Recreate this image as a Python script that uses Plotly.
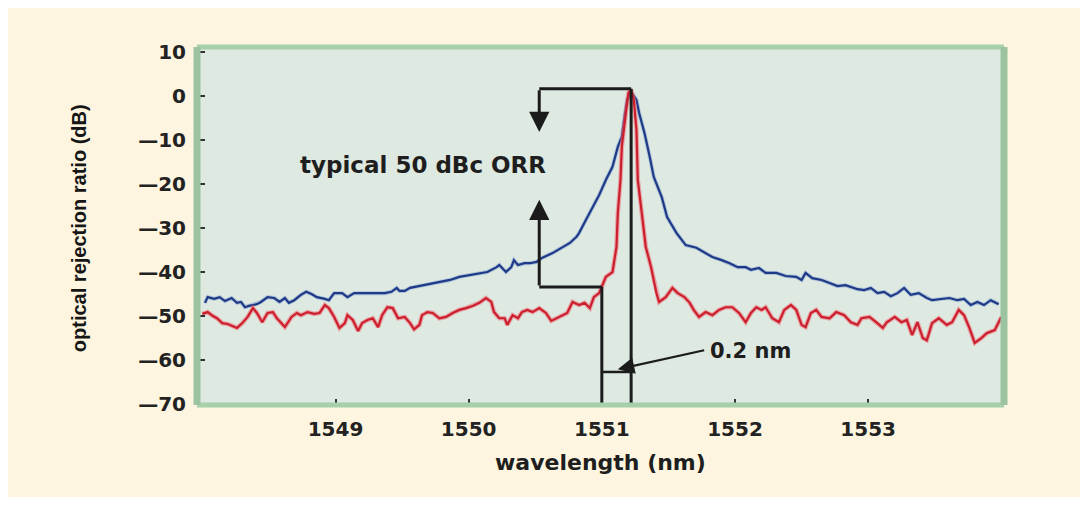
import plotly.graph_objects as go

# ---------------- data ----------------
blue_x = [1548.02, 1548.04, 1548.09, 1548.13, 1548.17, 1548.22, 1548.26, 1548.29, 1548.32, 1548.35,
          1548.41, 1548.44, 1548.49, 1548.54, 1548.58, 1548.62, 1548.65, 1548.69, 1548.74, 1548.78,
          1548.82, 1548.86, 1548.92, 1548.95, 1548.99, 1549.05, 1549.09, 1549.14, 1549.22, 1549.29,
          1549.37, 1549.42, 1549.46, 1549.48, 1549.52, 1549.56, 1549.63, 1549.71, 1549.78, 1549.86,
          1549.93, 1550.01, 1550.08, 1550.14, 1550.21, 1550.23, 1550.28, 1550.32, 1550.34, 1550.37,
          1550.42, 1550.46, 1550.51, 1550.55, 1550.63, 1550.70, 1550.76, 1550.81, 1550.83, 1550.88,
          1550.93, 1550.98, 1551.03, 1551.08, 1551.12, 1551.15, 1551.17, 1551.19, 1551.22, 1551.26,
          1551.28, 1551.32, 1551.36, 1551.39, 1551.45, 1551.49, 1551.56, 1551.63, 1551.71, 1551.78,
          1551.83, 1551.90, 1551.96, 1552.02, 1552.08, 1552.12, 1552.18, 1552.23, 1552.31, 1552.38,
          1552.46, 1552.50, 1552.53, 1552.58, 1552.65, 1552.71, 1552.77, 1552.83, 1552.87, 1552.92,
          1552.97, 1553.02, 1553.07, 1553.12, 1553.17, 1553.22, 1553.27, 1553.32, 1553.38, 1553.44,
          1553.48, 1553.55, 1553.61, 1553.67, 1553.72, 1553.77, 1553.82, 1553.87, 1553.92, 1553.98]
blue_y = [-47.0, -45.7, -46.1, -45.7, -46.6, -45.9, -47.0, -46.8, -48.0, -47.7,
          -47.3, -46.8, -45.7, -45.9, -46.8, -45.9, -47.0, -46.4, -45.2, -44.5,
          -45.0, -45.7, -46.1, -46.4, -44.8, -44.8, -45.7, -44.8, -44.8, -44.8,
          -44.8, -44.5, -43.6, -44.3, -44.3, -43.6, -43.2, -42.7, -42.3, -41.8,
          -41.1, -40.7, -40.2, -40.0, -38.9, -38.4, -40.0, -38.9, -37.3, -38.4,
          -38.0, -38.0, -37.7, -36.8, -35.7, -34.5, -33.4, -32.0, -31.1, -28.2,
          -25.5, -22.5, -19.1, -16.1, -11.6, -9.3, -4.8, -0.9, 0.9, -0.9,
          -3.9, -8.4, -13.9, -18.4, -23.0, -27.5, -31.1, -33.9, -34.5, -35.7,
          -36.6, -37.3, -38.0, -38.9, -38.9, -39.5, -39.1, -40.2, -40.2, -40.9,
          -41.1, -41.8, -40.2, -41.4, -41.8, -42.5, -43.2, -43.0, -43.4, -43.9,
          -44.1, -43.6, -44.8, -44.5, -45.5, -44.8, -43.6, -45.2, -44.8, -45.9,
          -46.4, -46.1, -45.9, -46.4, -46.1, -47.5, -46.8, -47.5, -46.4, -47.3]

red_x = [1548.00, 1548.04, 1548.08, 1548.11, 1548.15, 1548.19, 1548.23, 1548.26, 1548.30, 1548.34,
         1548.38, 1548.41, 1548.45, 1548.49, 1548.53, 1548.56, 1548.62, 1548.67, 1548.71, 1548.74,
         1548.79, 1548.84, 1548.88, 1548.92, 1548.95, 1548.99, 1549.03, 1549.07, 1549.09, 1549.13,
         1549.17, 1549.20, 1549.24, 1549.28, 1549.32, 1549.35, 1549.39, 1549.43, 1549.47, 1549.52,
         1549.56, 1549.59, 1549.63, 1549.65, 1549.69, 1549.73, 1549.78, 1549.83, 1549.88, 1549.93,
         1549.98, 1550.03, 1550.08, 1550.13, 1550.17, 1550.19, 1550.23, 1550.27, 1550.29, 1550.33,
         1550.37, 1550.40, 1550.44, 1550.48, 1550.53, 1550.58, 1550.62, 1550.66, 1550.70, 1550.74,
         1550.78, 1550.83, 1550.87, 1550.91, 1550.94, 1550.98, 1551.03, 1551.08, 1551.11, 1551.12,
         1551.14, 1551.15, 1551.18, 1551.20, 1551.22, 1551.24, 1551.26, 1551.27, 1551.30, 1551.33,
         1551.37, 1551.41, 1551.43, 1551.48, 1551.53, 1551.57, 1551.62, 1551.66, 1551.69, 1551.73,
         1551.78, 1551.83, 1551.88, 1551.93, 1551.98, 1552.03, 1552.08, 1552.12, 1552.16, 1552.20,
         1552.23, 1552.28, 1552.33, 1552.37, 1552.42, 1552.46, 1552.50, 1552.53, 1552.57, 1552.61,
         1552.65, 1552.71, 1552.76, 1552.82, 1552.87, 1552.92, 1552.95, 1553.01, 1553.06, 1553.11,
         1553.14, 1553.20, 1553.25, 1553.29, 1553.33, 1553.37, 1553.41, 1553.44, 1553.48, 1553.53,
         1553.59, 1553.63, 1553.68, 1553.72, 1553.76, 1553.80, 1553.85, 1553.89, 1553.95, 1554.00]
red_y = [-49.5, -49.1, -50.0, -50.5, -51.6, -51.8, -52.3, -52.7, -51.6, -50.2,
         -48.2, -49.3, -51.4, -49.3, -49.1, -50.5, -52.5, -50.2, -49.3, -49.8,
         -49.1, -49.5, -49.3, -47.5, -48.2, -50.2, -52.7, -51.6, -49.8, -50.9,
         -53.4, -51.6, -50.9, -50.5, -52.5, -49.8, -48.0, -48.2, -50.5, -50.2,
         -51.6, -53.0, -52.0, -49.8, -49.1, -49.3, -50.5, -50.2, -49.3, -48.6,
         -48.2, -47.7, -47.0, -45.9, -46.8, -49.1, -50.5, -50.5, -52.0, -49.8,
         -50.5, -49.1, -48.6, -49.1, -48.2, -49.3, -51.1, -50.5, -50.0, -49.3,
         -46.8, -47.5, -47.0, -48.2, -45.7, -44.8, -41.1, -40.0, -34.3, -26.6,
         -19.1, -11.6, -3.9, 0.7, 1.4, -0.9, -7.7, -19.1, -26.6, -34.3,
         -38.9, -44.8, -46.8, -45.7, -43.6, -44.8, -45.7, -47.0, -48.6, -50.2,
         -49.1, -49.8, -48.6, -48.0, -48.0, -49.3, -51.4, -49.3, -48.0, -48.6,
         -48.0, -50.5, -51.4, -48.6, -47.5, -48.6, -52.0, -52.5, -49.3, -48.6,
         -50.2, -50.5, -49.1, -49.8, -51.4, -52.0, -50.5, -50.2, -51.4, -52.7,
         -51.4, -50.2, -51.4, -50.9, -54.3, -51.4, -55.0, -55.5, -51.6, -50.5,
         -52.0, -51.4, -48.6, -49.8, -52.7, -56.1, -55.0, -53.9, -53.2, -50.2]

x_tick_vals = [1549, 1550, 1551, 1552, 1553]
x_tick_text = ["<b>1549</b>", "<b>1550</b>", "<b>1551</b>", "<b>1552</b>", "<b>1553</b>"]
y_tick_vals = [10, 0, -10, -20, -30, -40, -50, -60, -70]
y_tick_text = ["<b>10</b>", "<b>0</b>", "<b>\u201410</b>", "<b>\u201420</b>", "<b>\u201430</b>",
               "<b>\u201440</b>", "<b>\u201450</b>", "<b>\u201460</b>", "<b>\u201470</b>"]

x_range = [1547.96, 1554.02]
y_range = [-70.2, 11.1]

# annotation geometry (data units)
orr_top = 1.6
orr_bottom_level = -43.4
orr_arrow_x = 1550.53
orr_down_tip = -8.2
orr_up_tip = -23.6
peak_x = 1551.22
left_edge_x = 1551.00
width_bar_y = -62.7

INK = "#1b1b1b"
BOLD = "DejaVu Sans"
TICK_FONT = dict(family=BOLD, size=20, color="#222222")

fig = go.Figure()
fig.add_trace(go.Scatter(x=blue_x, y=blue_y, mode="lines",
                         line=dict(color="rgba(120,150,210,0.45)", width=4), hoverinfo="skip", showlegend=False))
fig.add_trace(go.Scatter(x=blue_x, y=blue_y, mode="lines",
                         line=dict(color="#1f3a86", width=2.2), showlegend=False))
fig.add_trace(go.Scatter(x=red_x, y=red_y, mode="lines",
                         line=dict(color="rgba(240,110,120,0.55)", width=4.5), hoverinfo="skip", showlegend=False))
fig.add_trace(go.Scatter(x=red_x, y=red_y, mode="lines",
                         line=dict(color="#cc1f2d", width=2.2), showlegend=False))

line_style = dict(color=INK, width=3)
shapes = [
    dict(type="line", xref="x", yref="y", x0=orr_arrow_x, x1=peak_x, y0=orr_top, y1=orr_top, line=line_style),
    dict(type="line", xref="x", yref="y", x0=peak_x, x1=peak_x, y0=orr_top, y1=y_range[0], line=line_style),
    dict(type="line", xref="x", yref="y", x0=orr_arrow_x, x1=left_edge_x, y0=orr_bottom_level, y1=orr_bottom_level, line=line_style),
    dict(type="line", xref="x", yref="y", x0=left_edge_x, x1=left_edge_x, y0=orr_bottom_level, y1=y_range[0], line=line_style),
    dict(type="line", xref="x", yref="y", x0=left_edge_x, x1=peak_x, y0=width_bar_y, y1=width_bar_y, line=dict(color=INK, width=2.5)),
    # frame
    dict(type="line", xref="paper", yref="paper", x0=0, x1=1, y0=1, y1=1, line=dict(color="#a6d0aa", width=5)),
    dict(type="line", xref="paper", yref="paper", x0=0, x1=1, y0=0, y1=0, line=dict(color="#a6d0aa", width=5)),
    dict(type="line", xref="paper", yref="paper", x0=0, x1=0, y0=0, y1=1, line=dict(color="#9cc3a0", width=7)),
    dict(type="line", xref="paper", yref="paper", x0=1, x1=1, y0=0, y1=1, line=dict(color="#9cc3a0", width=7)),
]

annotations = [
    dict(x=orr_arrow_x, y=orr_down_tip, ax=orr_arrow_x, ay=orr_top, xref="x", yref="y", axref="x", ayref="y",
         text="", showarrow=True, arrowhead=2, arrowsize=1.35, arrowwidth=3, arrowcolor=INK, standoff=0),
    dict(x=orr_arrow_x, y=orr_up_tip, ax=orr_arrow_x, ay=orr_bottom_level, xref="x", yref="y", axref="x", ayref="y",
         text="", showarrow=True, arrowhead=2, arrowsize=1.35, arrowwidth=3, arrowcolor=INK, standoff=0),
    dict(x=1551.12, y=width_bar_y + 0.6, ax=1551.78, ay=-57.7, xref="x", yref="y", axref="x", ayref="y",
         text="", showarrow=True, arrowhead=2, arrowsize=1.5, arrowwidth=2.2, arrowcolor=INK, standoff=0),
    dict(x=1549.66, y=-15.7, xref="x", yref="y", text="<b>typical 50 dBc ORR</b>", showarrow=False,
         font=dict(family=BOLD, size=23, color="#1e1e1e")),
    dict(x=1551.80, y=-57.9, xref="x", yref="y", text="<b>0.2 nm</b>", showarrow=False, xanchor="left",
         font=dict(family=BOLD, size=21, color="#1e1e1e")),
    dict(x=0.5, y=-0.162, xref="paper", yref="paper", text="<b>wavelength (nm)</b>", showarrow=False,
         yanchor="middle", font=dict(family=BOLD, size=22, color="#1e1e1e")),
    dict(x=-0.147, y=0.495, xref="paper", yref="paper", text="<b>optical rejection ratio (dB)</b>", showarrow=False,
         textangle=-90, xanchor="center", yanchor="middle",
         font=dict(family="Liberation Sans", size=20, color="#161616")),
]

fig.update_layout(
    width=1072, height=489,
    margin=dict(l=189, r=76, t=39, b=92),
    paper_bgcolor="#fdf5df",
    plot_bgcolor="#dde9e1",
    shapes=shapes,
    annotations=annotations,
    showlegend=False,
    xaxis=dict(range=x_range, tickvals=x_tick_vals, ticktext=x_tick_text, ticks="inside", ticklen=6,
               tickwidth=2, tickcolor="#333333", showgrid=False, zeroline=False, showline=False,
               tickfont=TICK_FONT, ticklabelstandoff=10),
    yaxis=dict(range=y_range, tickvals=y_tick_vals, ticktext=y_tick_text, ticks="inside", ticklen=8,
               tickwidth=2, tickcolor="#333333", showgrid=False, zeroline=False, showline=False,
               tickfont=TICK_FONT, ticklabelstandoff=10),
)

fig.write_html("out.html")
